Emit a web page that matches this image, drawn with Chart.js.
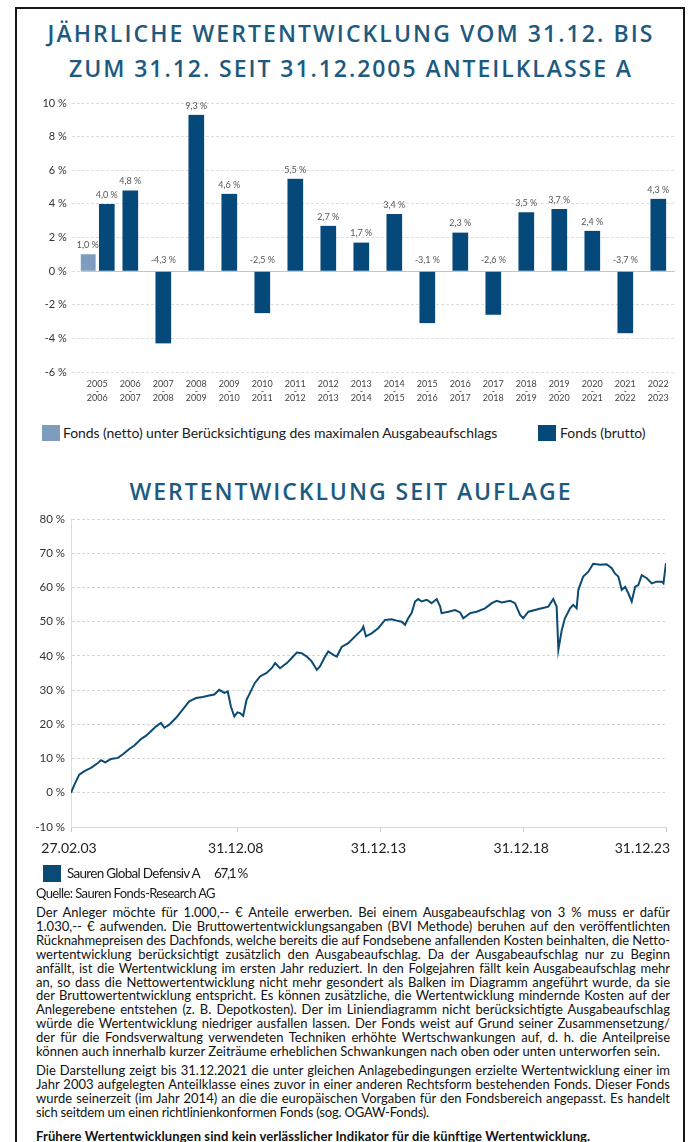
<!DOCTYPE html>
<html><head><meta charset="utf-8">
<script src="https://cdn.jsdelivr.net/npm/chart.js@4.4.1/dist/chart.umd.min.js"></script>
<style>
html,body{margin:0;padding:0;background:#fff;}
body{width:691px;height:1142px;position:relative;overflow:hidden;font-family:Lato,"Liberation Sans",sans-serif;color:#1a1a1a;}
#frame{position:absolute;left:15px;top:7px;width:670px;height:1170px;border:2px solid #161616;box-sizing:border-box;}
.title{position:absolute;left:16px;width:670px;text-align:center;color:#1d5a80;font-family:"Open Sans",sans-serif;font-weight:600;font-size:23px;height:30px;line-height:30px;white-space:nowrap;}
.title span{display:inline-block;}
.abs{position:absolute;white-space:nowrap;}
.sq{position:absolute;}
.para{position:absolute;left:36px;width:634px;font-size:13px;color:#111;}
.para div{white-space:nowrap;text-align:justify;text-align-last:justify;overflow:visible;}
.para div.last{text-align-last:left;}
canvas{position:absolute;left:0;}
</style></head>
<body>
<div id="frame"></div>
<div class="title" style="top:18px"><span data-w="607">JÄHRLICHE WERTENTWICKLUNG VOM 31.12. BIS</span></div>
<div class="title" style="top:53px"><span data-w="564">ZUM 31.12. SEIT 31.12.2005 ANTEILKLASSE A</span></div>
<canvas id="bar" width="691" height="320" style="top:90px"></canvas>
<div class="sq" style="left:42px;top:425px;width:18px;height:16px;background:#7e9cbf"></div>
<div class="abs" style="left:63px;top:424px;font-size:14px;line-height:18px;"><span class="fit" data-w="434">Fonds (netto) unter Berücksichtigung des maximalen Ausgabeaufschlags</span></div>
<div class="sq" style="left:538px;top:425px;width:18px;height:16px;background:#05487a"></div>
<div class="abs" style="left:560px;top:424px;font-size:14px;line-height:18px;"><span class="fit" data-w="85">Fonds (brutto)</span></div>
<div class="title" style="top:476px"><span data-w="443">WERTENTWICKLUNG SEIT AUFLAGE</span></div>
<canvas id="line" width="691" height="360" style="top:505px"></canvas>
<div class="sq" style="left:43px;top:865px;width:18px;height:17px;background:#0b4a74"></div>
<div class="abs" style="left:67px;top:864px;font-size:13.5px;line-height:18px;"><span class="fit" data-w="133">Sauren Global Defensiv A</span></div>
<div class="abs" style="left:214px;top:864px;font-size:13.5px;line-height:18px;"><span class="fit" data-w="33">67,1 %</span></div>
<div class="abs" style="left:36px;top:884px;font-size:13px;line-height:18px;"><span class="fit" data-w="179">Quelle: Sauren Fonds-Research AG</span></div>
<div class="para" style="top:906px;line-height:13.9px;">
<div>Der Anleger möchte für 1.000,-- € Anteile erwerben. Bei einem Ausgabeaufschlag von 3 % muss er dafür</div>
<div>1.030,-- € aufwenden. Die Bruttowertentwicklungsangaben (BVI Methode) beruhen auf den veröffentlichten</div>
<div>Rücknahmepreisen des Dachfonds, welche bereits die auf Fondsebene anfallenden Kosten beinhalten, die Netto-</div>
<div>wertentwicklung berücksichtigt zusätzlich den Ausgabeaufschlag. Da der Ausgabeaufschlag nur zu Beginn</div>
<div>anfällt, ist die Wertentwicklung im ersten Jahr reduziert. In den Folgejahren fällt kein Ausgabeaufschlag mehr</div>
<div>an, so dass die Nettowertentwicklung nicht mehr gesondert als Balken im Diagramm angeführt wurde, da sie</div>
<div>der Bruttowertentwicklung entspricht. Es können zusätzliche, die Wertentwicklung mindernde Kosten auf der</div>
<div>Anlegerebene entstehen (z. B. Depotkosten). Der im Liniendiagramm nicht berücksichtigte Ausgabeaufschlag</div>
<div>würde die Wertentwicklung niedriger ausfallen lassen. Der Fonds weist auf Grund seiner Zusammensetzung/</div>
<div>der für die Fondsverwaltung verwendeten Techniken erhöhte Wertschwankungen auf, d. h. die Anteilpreise</div>
<div data-w="624">können auch innerhalb kurzer Zeiträume erheblichen Schwankungen nach oben oder unten unterworfen sein.</div>
</div>
<div class="para" style="top:1063px;line-height:14px;">
<div>Die Darstellung zeigt bis 31.12.2021 die unter gleichen Anlagebedingungen erzielte Wertentwicklung einer im</div>
<div>Jahr 2003 aufgelegten Anteilklasse eines zuvor in einer anderen Rechtsform bestehenden Fonds. Dieser Fonds</div>
<div>wurde seinerzeit (im Jahr 2014) an die die europäischen Vorgaben für den Fondsbereich angepasst. Es handelt</div>
<div class="last" data-w="393">sich seitdem um einen richtlinienkonformen Fonds (sog. OGAW-Fonds).</div>
</div>
<div class="para" style="top:1129px;line-height:14px;font-weight:bold;">
<div class="last" data-w="554">Frühere Wertentwicklungen sind kein verlässlicher Indikator für die künftige Wertentwicklung.</div>
</div>
<script>
// ---- Bar chart data ----
const periodStart = ['2005','2006','2007','2008','2009','2010','2011','2012','2013','2014','2015','2016','2017','2018','2019','2020','2021','2022'];
const periodEnd   = ['2006','2007','2008','2009','2010','2011','2012','2013','2014','2015','2016','2017','2018','2019','2020','2021','2022','2023'];
const nettoValues  = [1.0, null, null, null, null, null, null, null, null, null, null, null, null, null, null, null, null, null];
const bruttoValues = [4.0, 4.8, -4.3, 9.3, 4.6, -2.5, 5.5, 2.7, 1.7, 3.4, -3.1, 2.3, -2.6, 3.5, 3.7, 2.4, -3.7, 4.3];
const barSeriesNames = ['Fonds (netto) unter Berücksichtigung des maximalen Ausgabeaufschlags', 'Fonds (brutto)'];

// ---- Line chart data (decimal year, % since launch) ----
const lineYears = [2003.16,2003.28,2003.45,2003.63,2003.86,2004.10,2004.21,2004.36,2004.56,2004.80,2004.97,2005.20,2005.38,2005.61,2005.79,2005.96,2006.14,2006.31,2006.43,2006.60,2006.84,2007.07,2007.30,2007.54,2007.77,2008.00,2008.18,2008.35,2008.53,2008.65,2008.76,2008.88,2008.99,2009.08,2009.19,2009.31,2009.43,2009.60,2009.78,2010.01,2010.19,2010.31,2010.48,2010.72,2010.89,2011.07,2011.24,2011.42,2011.59,2011.77,2011.88,2012.06,2012.17,2012.35,2012.47,2012.64,2012.87,2013.11,2013.34,2013.40,2013.49,2013.69,2013.92,2014.16,2014.39,2014.57,2014.74,2014.86,2014.97,2015.09,2015.21,2015.32,2015.44,2015.62,2015.79,2015.97,2016.09,2016.14,2016.38,2016.61,2016.79,2016.90,2017.14,2017.37,2017.66,2017.90,2018.07,2018.25,2018.54,2018.71,2018.89,2019.00,2019.18,2019.41,2019.65,2019.88,2020.05,2020.17,2020.23,2020.35,2020.46,2020.64,2020.75,2020.87,2020.93,2021.10,2021.28,2021.45,2021.69,2021.92,2022.10,2022.21,2022.33,2022.45,2022.57,2022.68,2022.80,2022.92,2023.03,2023.15,2023.33,2023.50,2023.68,2023.85,2023.91,2024.00];
const lineValues = [0.0,2.4,5.3,6.3,7.3,8.7,9.5,8.9,9.9,10.2,11.2,12.8,13.8,15.7,16.7,18.0,19.4,20.4,19.0,19.9,21.9,24.3,26.7,27.7,28.0,28.4,28.7,30.1,29.2,29.6,25.2,22.3,23.5,23.3,22.5,27.2,29.2,32.1,34.0,35.0,36.4,37.9,36.4,37.9,39.4,41.0,40.8,39.8,38.4,35.9,36.9,39.8,41.3,40.3,39.8,42.6,43.7,45.7,47.6,48.6,45.7,46.6,48.1,50.5,50.7,50.3,50.0,49.1,51.0,52.5,55.9,56.6,55.9,56.4,55.4,56.6,54.4,52.5,52.9,53.4,52.7,51.0,52.5,52.9,53.9,55.4,56.1,55.6,56.1,55.4,52.0,51.0,52.9,53.4,53.9,54.4,56.6,54.4,41.8,47.6,51.0,53.9,54.9,53.9,59.3,63.2,64.6,66.9,66.6,66.8,65.6,64.1,63.2,59.3,60.2,58.3,55.9,60.2,60.7,63.6,62.7,61.2,61.7,61.7,61.2,67.1];
const lineTickValues = [2003.16, 2009.0, 2014.0, 2019.0, 2024.0];
const lineTickLabels = ['27.02.03', '31.12.08', '31.12.13', '31.12.18', '31.12.23'];
const lineSeriesName = 'Sauren Global Defensiv A';

// ---- text fitting ----
function natWidth(el){
  const s=document.createElement('span');
  s.style.whiteSpace='nowrap';s.style.position='absolute';s.style.visibility='hidden';
  s.style.font=getComputedStyle(el).font;
  s.textContent=el.textContent;document.body.appendChild(s);
  const w=s.getBoundingClientRect().width;s.remove();return w;
}
document.querySelectorAll('.title span, span.fit').forEach(el=>{
  const w=+el.dataset.w;const n=el.textContent.length;const nat=natWidth(el);
  el.style.letterSpacing=((w-nat)/n)+'px';
});
document.querySelectorAll('.para div').forEach(el=>{
  const w=el.dataset.w?+el.dataset.w:634;const n=el.textContent.length;const nat=natWidth(el);
  if(el.dataset.w){el.style.letterSpacing=((w-nat)/n)+'px';el.style.textAlignLast='left';el.style.textAlign='left';}
  else if(nat>w-1){el.style.letterSpacing=((w-1-nat)/n)+'px';}
});

// ---- bar chart ----
const valueLabels={id:'valueLabels',afterDatasetsDraw(chart){
  const ctx=chart.ctx;ctx.save();ctx.font='9px Lato';ctx.fillStyle='#555';ctx.textAlign='center';ctx.textBaseline='middle';
  chart.data.datasets.forEach((ds,di)=>{
    chart.getDatasetMeta(di).data.forEach((el,i)=>{
      const v=ds.data[i];if(v==null)return;
      const t=v.toFixed(1).replace('.',',')+' %';
      ctx.fillText(t,el.x,v>=0?el.y-9:el.base-12);
    });
  });
  ctx.restore();
}};
new Chart(document.getElementById('bar'),{
  type:'bar',
  data:{labels:periodStart.map((s,i)=>[s,'-',periodEnd[i]]),
    datasets:[
      {label:barSeriesNames[0],data:nettoValues,backgroundColor:'#7e9cbf',skipNull:true},
      {label:barSeriesNames[1],data:bruttoValues,backgroundColor:'#05487a',skipNull:true}
    ]},
  options:{
    responsive:false,animation:false,devicePixelRatio:1,
    datasets:{bar:{skipNull:true,barThickness:19,borderWidth:{left:2,right:2,top:0,bottom:0},borderColor:'rgba(0,0,0,0)'}},
    layout:{padding:{left:0,right:16.2,top:13,bottom:0}},
    plugins:{legend:{display:false},tooltip:{enabled:false}},
    scales:{
      x:{grid:{display:false,drawTicks:false},border:{display:false},
        ticks:{font:{family:'Lato',size:9,lineHeight:0.8},color:'#444',padding:8,autoSkip:false,maxRotation:0,minRotation:0},
        afterFit(s){s.height=38;}},
      y:{min:-6,max:10,
        ticks:{stepSize:2,callback:v=>v+' %',font:{family:'Lato',size:11},color:'#333',padding:5},
        grid:{color:c=>(c.tick&&c.tick.value===0)?'#c4c4c4':'#dcdcdc',drawTicks:true,tickLength:9,tickColor:'#dcdcdc',tickBorderDash:[3,2]},
        border:{display:false,dash:c=>(c.tick&&c.tick.value===0)?[]:[3,2]},
        afterFit(s){s.width=80.8;}}
    }
  },
  plugins:[valueLabels]
});

// ---- line chart ----
const xLabels={id:'xLabels',afterDraw(chart){
  const s=chart.scales.x,ctx=chart.ctx;ctx.save();ctx.font='14px Lato';ctx.fillStyle='#222';ctx.textBaseline='middle';
  lineTickValues.forEach((v,i)=>{
    const px=s.getPixelForValue(v);
    if(i===lineTickValues.length-1){ctx.textAlign='right';ctx.fillText(lineTickLabels[i],px+4,s.top+21);}
    else{ctx.textAlign='center';ctx.fillText(lineTickLabels[i],px-2,s.top+21);}
  });
  ctx.restore();
}};
new Chart(document.getElementById('line'),{
  type:'line',
  data:{datasets:[{label:lineSeriesName,data:lineYears.map((x,i)=>({x:x,y:lineValues[i]})),borderColor:'#0d4a72',borderWidth:2,pointRadius:0,tension:0,fill:false}]},
  options:{
    responsive:false,animation:false,devicePixelRatio:1,
    layout:{padding:{left:0,right:25,top:14,bottom:0}},
    plugins:{legend:{display:false},tooltip:{enabled:false}},
    scales:{
      x:{type:'linear',min:2003.16,max:2024.0,
        afterBuildTicks(s){s.ticks=lineTickValues.map(v=>({value:v}));},
        ticks:{display:false},
        grid:{drawOnChartArea:false,drawTicks:true,tickLength:5,color:'#c8c8c8'},
        border:{display:true,color:'#d8d8d8'},
        afterFit(s){s.height=38;}},
      y:{min:-10,max:80,
        ticks:{stepSize:10,callback:v=>v+' %',font:{family:'Lato',size:11.5},color:'#333',padding:6},
        grid:{color:'#d6d6d6',drawTicks:false},
        border:{display:true,color:'#dcdcdc',dash:[3,2]},
        afterFit(s){s.width=71;}}
    }
  },
  plugins:[xLabels]
});
</script>
</body></html>
